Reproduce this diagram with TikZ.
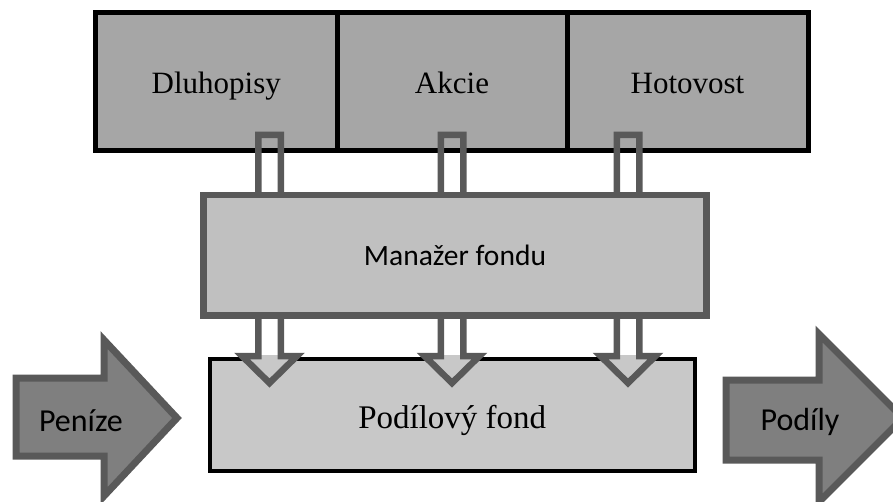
\documentclass[tikz,border=0pt]{standalone}
\usepackage{fontspec}
\setmainfont{Liberation Serif}
\newfontfamily\carlitofont{Carlito}
\definecolor{topgray}{RGB}{166,166,166}
\definecolor{mangray}{RGB}{192,192,192}
\definecolor{fondgray}{RGB}{200,200,200}
\definecolor{darkline}{RGB}{89,89,89}
\definecolor{bigfill}{RGB}{127,127,127}
\newcommand\hollowpath[1]{(#1-11.25,135) -- (#1-11.25,356) -- (#1-27.5,356) -- (#1,383) -- (#1+27.5,356) -- (#1+11.25,356) -- (#1+11.25,135) -- cycle}
\begin{document}
\begin{tikzpicture}[x=1pt,y=-1pt,
  topbox/.style={draw=black, line width=5pt, fill=topgray, inner sep=0pt,
    minimum height=138pt, text height=30pt, text depth=5pt,
    font=\fontsize{31}{34}\selectfont},
  manbox/.style={draw=darkline, line width=6.5pt, fill=mangray, inner sep=0pt,
    minimum width=503pt, minimum height=120.5pt, text height=26pt, text depth=6pt,
    font=\carlitofont\fontsize{29.5}{32}\selectfont},
  fondbox/.style={draw=black, line width=4pt, fill=fondgray, inner sep=0pt,
    minimum width=485.5pt, minimum height=111.5pt},
  hollowarrow/.style={draw=darkline, line width=6.5pt, line join=miter},
  bigarrow/.style={draw=darkline, fill=bigfill, line width=7pt, line join=miter},
  bigtext/.style={font=\carlitofont\fontsize{32}{34}\selectfont, inner sep=0pt, anchor=base}]
\useasboundingbox (0,0) rectangle (893,502);
\clip (0,0) rectangle (893,502);
% top boxes
\node[topbox, minimum width=241.5pt] (dluh) at (216.25,81.5) {Dluhopisy};
\node[topbox, minimum width=230pt] (akcie) at (452,81.5) {Akcie};
\node[topbox, minimum width=241pt] (hot) at (687.5,81.5) {Hotovost};
% fund box
\node[fondbox] (fond) at (452.25,414.75) {};
% arrow heads hide the fund border
\foreach \cx in {269.5,452,628}{
  \begin{scope}
    \clip \hollowpath{\cx};
    \fill[fondgray] (fond.north west) ++(-2,-2) rectangle ([shift={(2,2)}]fond.south east);
  \end{scope}
}
\node[font=\fontsize{33}{36}\selectfont, inner sep=0pt, anchor=base] (fondtext) at (452.25,428) {Podílový fond};
% hollow arrows
\foreach \cx in {269.5,452,628}{
  \draw[hollowarrow] \hollowpath{\cx};
}
% manager box
\node[manbox] (man) at (455,255.25) {Manažer fondu};
% big arrows
\draw[bigarrow] (16,378) -- (104,378) -- (104,340) -- (177,418) -- (104,496) -- (104,456) -- (16,456) -- cycle;
\node[bigtext] (penize) at (81,431) {Peníze};
\draw[bigarrow] (726,380) -- (819,380) -- (819,334) -- (903,418) -- (819,502) -- (819,460) -- (726,460) -- cycle;
\node[bigtext] (podily) at (800,430) {Podíly};
\end{tikzpicture}
\end{document}
